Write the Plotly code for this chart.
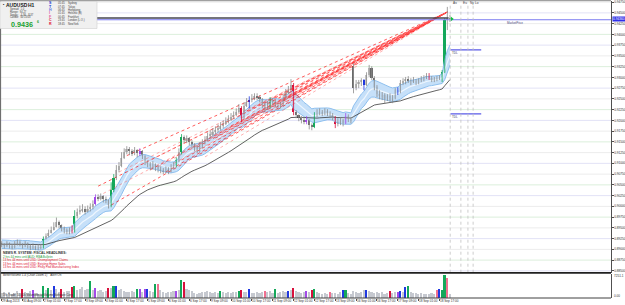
import plotly.graph_objects as go
import pandas as pd

PIP = 1e-4
# ---- OHLC (2-hour bars, prices in 1e-4 units) ----
open_pips = [
 8914,8912,8907,8914,8909,8905,8912,8916,8912,8907,8914,8909,8905,8907,8902,8907,8907,8925,8930,8939,
 8946,8953,8963,8956,8949,8944,8939,8946,8942,8977,8986,8991,8995,8988,8993,8998,9005,9021,9019,9023,
 9016,9014,9002,9037,9065,9084,9093,9112,9126,9133,9128,9124,9131,9124,9128,9117,9105,9098,9093,9098,
 9091,9086,9084,9079,9086,9082,9089,9096,9107,9126,9161,9154,9158,9149,9142,9138,9133,9140,9147,9154,
 9163,9168,9172,9177,9182,9186,9191,9198,9203,9207,9212,9219,9228,9205,9233,9242,9247,9252,9256,9254,
 9249,9238,9228,9235,9247,9242,9238,9233,9235,9252,9263,9270,9282,9219,9212,9205,9200,9198,9200,9189,
 9184,9210,9217,9219,9217,9221,9217,9212,9207,9191,9196,9200,9193,9210,9203,9326,9275,9284,9289,9294,
 9282,9305,9322,9298,9277,9261,9256,9259,9249,9256,9247,9252,9270,9266,9287,9291,9296,9291,9294,9289,
 9291,9296,9294,9301,9303,9298,9294,9296,9298,9301,9312,9433,9438]
high_pips = [
 8919,8914,8919,8916,8912,8919,8923,8921,8914,8919,8916,8912,8914,8909,8912,8912,8930,8937,8946,8953,
 8963,8974,8967,8958,8953,8949,8951,8956,8991,8995,9002,9005,9000,9002,9007,9014,9028,9028,9030,9026,
 9023,9016,9056,9075,9096,9103,9126,9135,9140,9138,9133,9138,9133,9135,9131,9119,9107,9103,9105,9100,
 9096,9093,9089,9093,9091,9098,9103,9114,9135,9168,9165,9165,9161,9154,9147,9142,9149,9156,9163,9172,
 9177,9182,9186,9191,9196,9200,9207,9212,9217,9221,9228,9238,9233,9242,9252,9256,9261,9263,9263,9259,
 9252,9242,9245,9254,9252,9247,9240,9242,9261,9273,9280,9296,9287,9224,9214,9210,9207,9210,9203,9193,
 9219,9226,9228,9224,9228,9226,9221,9217,9210,9205,9207,9203,9217,9214,9207,9333,9294,9294,9298,9296,
 9312,9329,9326,9303,9282,9270,9266,9263,9261,9263,9259,9275,9277,9294,9298,9301,9303,9298,9301,9296,
 9298,9303,9305,9310,9310,9303,9301,9303,9305,9317,9438,9464,9445]
low_pips = [
 8905,8902,8905,8902,8900,8902,8909,8907,8902,8905,8902,8898,8900,8898,8898,8900,8902,8923,8928,8937,
 8944,8951,8949,8942,8937,8935,8935,8937,8939,8972,8981,8986,8981,8986,8988,8993,9002,9012,9014,9009,
 9007,8995,8998,9033,9061,9079,9091,9110,9121,9119,9117,9119,9114,9117,9110,9096,9091,9084,9086,9082,
 9079,9077,9075,9077,9075,9079,9086,9091,9103,9121,9147,9147,9142,9135,9128,9124,9126,9135,9144,9151,
 9158,9163,9168,9172,9177,9182,9189,9193,9198,9203,9210,9217,9196,9203,9231,9228,9242,9247,9247,9242,
 9228,9221,9224,9228,9235,9231,9226,9228,9233,9249,9261,9268,9212,9205,9198,9193,9191,9191,9179,9177,
 9182,9207,9212,9210,9212,9210,9205,9200,9182,9186,9189,9186,9191,9196,9193,9263,9270,9275,9280,9270,
 9280,9301,9294,9270,9254,9249,9247,9240,9245,9242,9240,9249,9259,9263,9282,9284,9287,9282,9287,9282,
 9284,9289,9291,9296,9294,9289,9289,9291,9294,9289,9310,9410,9429]
close_pips = [
 8912,8907,8914,8909,8905,8912,8916,8912,8907,8914,8909,8905,8907,8902,8907,8905,8925,8930,8939,8946,
 8953,8963,8956,8949,8944,8939,8946,8942,8977,8986,8991,8995,8988,8993,8998,9005,9021,9019,9023,9016,
 9014,9002,9037,9065,9084,9093,9112,9126,9133,9128,9124,9131,9124,9128,9117,9105,9098,9093,9098,9091,
 9086,9084,9079,9086,9082,9089,9096,9107,9126,9161,9154,9158,9149,9142,9138,9131,9140,9147,9154,9163,
 9168,9172,9177,9182,9186,9191,9198,9203,9207,9212,9219,9228,9205,9233,9242,9247,9252,9256,9254,9249,
 9238,9228,9235,9247,9242,9238,9233,9235,9252,9263,9270,9282,9219,9212,9205,9200,9198,9200,9189,9184,
 9210,9217,9219,9217,9221,9217,9212,9207,9191,9196,9200,9193,9210,9203,9200,9275,9284,9289,9294,9282,
 9305,9322,9298,9277,9261,9256,9259,9249,9256,9247,9252,9270,9266,9287,9291,9296,9291,9294,9289,9291,
 9296,9294,9301,9303,9298,9294,9296,9298,9301,9312,9433,9438,9436]
volume = [
 1500,1800,1200,2000,1400,1700,2300,1600,2900,1900,1500,2200,2600,1700,1300,1100,
 3800,2500,3200,2400,3800,2700,2000,2900,1800,2100,2300,3500,3800,2600,2900,3300,2400,2800,5200,2500,
 3200,2100,2400,1900,2200,3200,3000,3800,3800,2600,2900,2300,2000,1800,2200,1900,2900,2900,2000,2900,
 2900,2300,2000,4300,4300,2400,1800,1600,2000,1900,2200,2300,2600,5500,4900,2900,2400,2100,1700,1300,
 1600,2000,1800,2200,1900,1700,2000,1600,2300,1800,1500,1900,1700,2000,1800,2300,2600,2000,1800,2900,
 1700,1500,1900,1600,2000,2300,1800,2200,1700,2900,1600,1900,2100,2000,2300,2600,3200,2200,1800,1700,
 2000,2300,1900,2600,2900,1800,1500,1300,1600,1400,2000,1500,1700,1400,1800,2600,2600,1500,1200,2200,
 1900,1700,2000,2600,2600,2200,2000,1700,1900,1500,1800,1400,1700,2300,1600,1900,2000,2300,1800,3500,
 3800,1900,1500,1600,1300,1500,1200,1400,1300,1600,1400,2600,2900,2600,7000,6100,1400]

candle_green = [16, 28, 42, 43, 67, 69, 103, 120, 169, 170]
candle_red = [27, 92, 112, 128, 164]
candle_blue = [95, 139, 152]
candle_purple = [36, 53, 117, 132]
vol_green = [16, 18, 28, 34, 43, 52, 59, 69, 84, 91, 105, 120, 132, 156, 169, 170]
vol_red = [8, 23, 27, 41, 70, 92, 112, 119, 149]
vol_blue = [20, 44, 56, 95, 110, 131, 140, 153, 155, 168]
vol_purple = [12, 36, 53, 55, 67, 117, 152]
vol_pink = [60, 101, 126, 167, 171]

time_labels = ["29 Aug 2013", "30 Aug 09:00", "2 Sep 01:00", "2 Sep 17:00", "3 Sep 09:00",
               "4 Sep 01:00", "4 Sep 17:00", "5 Sep 09:00", "6 Sep 01:00", "6 Sep 17:00",
               "9 Sep 09:00", "10 Sep 01:00", "10 Sep 17:00", "11 Sep 09:00", "12 Sep 01:00",
               "12 Sep 17:00", "13 Sep 09:00", "16 Sep 01:00", "16 Sep 17:00", "17 Sep 09:00",
               "18 Sep 01:00", "18 Sep 17:00"]
BARS_PER_LABEL = 8

# fan lines: start points (bar, price) all joined to one apex
fan_start_bar = [37, 39, 42, 45, 48, 53, 57, 60, 63, 66, 69, 72, 75, 78, 82, 85, 88, 92, 94,
                 96, 100, 104, 108, 111]
fan_start_pips = [9047, 9030, 9003, 9080, 9118, 9096, 9085, 9092, 9080, 9100, 9108, 9132, 9138,
                  9115, 9159, 9176, 9187, 9206, 9222, 9229, 9233, 9238, 9247, 9271]
fan_apex_bar = 171
fan_apex_pips = 9452

close_line_pips = 9438
market_price_pips = 9434
tdl_pips = [9364, 9215]
session_bars = [172.1, 176.2, 178.9, 180.9]
session_names = ["As", "Eu", "Ny", "Lo"]

price_ticks_pips = list(range(8850, 9476, 25))
grid_colors = ["#e2e2f6", "#dcefdc", "#ececec", "#e2e2f6", "#ececec", "#dcefdc", "#ececec"]

news_lines = [("NEWS R. SYSTEM: FISCAL HEADLINES:", "#303030"),
              ("2 hrs 44 mins until AUD: RBA Bulletin", "#1a9a3a"),
              ("13 hrs 44 mins until USD: Unemployment Claims", "#e01030"),
              ("13 hrs 44 mins until USD: Existing Home Sales", "#e01030"),
              ("13 hrs 44 mins until USD: Philly Fed Manufacturing Index", "#e01030")]
session_clock = [("S", "#2030d0", "05:45", "Sydney"), ("T", "#2030d0", "07:45", "Tokyo"),
                 ("H", "#6070e0", "06:45", "Hongkong"), ("I", "#e060a0", "01:45", "Helsinki (B)"),
                 ("F", "#e060a0", "00:45", "Frankfurt"), ("C", "#e01030", "23:45", "London (L.O.)"),
                 ("R", "#e01030", "18:45", "NewYork")]

# ---------------------------------------------------------------
W, H = 625, 305
ML, MR, MT, MB = 1, 14, 1, 7
PW, PH = W - ML - MR, H - MT - MB
def px(x):
    return (x - ML) / PW
def py(y):
    return (H - MB - y) / PH

o = [v * PIP for v in open_pips]
h = [v * PIP for v in high_pips]
l = [v * PIP for v in low_pips]
c = [v * PIP for v in close_pips]
n = len(c)
idx = list(range(n))

cs, hs, ls = pd.Series(c), pd.Series(h), pd.Series(l)
band_mid = cs.ewm(span=12, adjust=False).mean()
band_rng = (hs - ls).ewm(span=12, adjust=False).mean()
band_up = band_mid + 0.7 * band_rng
band_lo = band_mid - 0.7 * band_rng
slow_ma = cs.ewm(span=42, adjust=False).mean()

X0, X1 = -0.27, 233.8
Y0, Y1 = 0.884570, 0.947767
main_dom = [py(272.7), 1]
vol_dom = [0, py(273.6)]

COL = {"g": "#14a85a", "r": "#d8103c", "b": "#2038e0", "p": "#a24ae8", "k": "#f07090"}
ccol = {}
for i in candle_green: ccol[i] = COL["g"]
for i in candle_red: ccol[i] = COL["r"]
for i in candle_blue: ccol[i] = COL["b"]
for i in candle_purple: ccol[i] = COL["p"]

fig = go.Figure()

# band
fig.add_trace(go.Scatter(x=idx, y=band_up, mode="lines", line=dict(color="#8dbfee", width=1),
                         hoverinfo="skip", showlegend=False))
fig.add_trace(go.Scatter(x=idx, y=band_lo, mode="lines", line=dict(color="#8dbfee", width=1),
                         fill="tonexty", fillcolor="rgba(192,221,248,0.9)", hoverinfo="skip", showlegend=False))
fig.add_trace(go.Scatter(x=idx, y=band_mid, mode="lines", line=dict(color="#eef6fe", width=1.2),
                         hoverinfo="skip", showlegend=False))
fig.add_trace(go.Scatter(x=idx, y=slow_ma, mode="lines", line=dict(color="#3a3a3a", width=0.8),
                         hoverinfo="skip", showlegend=False))

# fan
for k, colr in enumerate(["rgba(255,0,0,0.8)", "rgba(255,90,90,0.6)"]):
    fx, fy = [], []
    for j in range(k, len(fan_start_bar), 2):
        fx += [fan_start_bar[j], fan_apex_bar, None]
        fy += [fan_start_pips[j] * PIP, fan_apex_pips * PIP, None]
    fig.add_trace(go.Scatter(x=fx, y=fy, mode="lines", line=dict(color=colr, width=0.8, dash="dot"),
                             hoverinfo="skip", showlegend=False))

# wicks
groups = {}
for i in idx:
    colr = ccol.get(i, "#8a8a8a")
    groups.setdefault(colr, ([], []))
    groups[colr][0].extend([i, i, None])
    groups[colr][1].extend([l[i], h[i], None])
for colr, (wx, wy) in groups.items():
    fig.add_trace(go.Scatter(x=wx, y=wy, mode="lines", line=dict(color=colr, width=0.8),
                             hoverinfo="skip", showlegend=False))
# bodies
bcol = [ccol.get(i, "#c2c2c2" if c[i] >= o[i] else "#6a6a6a") for i in idx]
fig.add_trace(go.Bar(x=idx, y=[max(abs(c[i] - o[i]), 0.3 * PIP) for i in idx],
                     base=[min(o[i], c[i]) for i in idx], width=0.62,
                     marker=dict(color=bcol, line=dict(width=0)), hoverinfo="skip", showlegend=False))

# level lines
fig.add_trace(go.Scatter(x=[X0, X1], y=[market_price_pips * PIP] * 2, mode="lines",
                         line=dict(color="#7878f0", width=1.2), hoverinfo="skip", showlegend=False))
fig.add_trace(go.Scatter(x=[X0, fan_apex_bar + 0.5], y=[close_line_pips * PIP] * 2, mode="lines",
                         line=dict(color="#454550", width=1.4), hoverinfo="skip", showlegend=False))
for lv in tdl_pips:
    fig.add_trace(go.Scatter(x=[n - 0.8, n + 11], y=[lv * PIP] * 2, mode="lines",
                             line=dict(color="#5a5ae8", width=1.2), hoverinfo="skip", showlegend=False))
fig.add_trace(go.Scatter(x=[n - 0.3], y=[c[-1]], mode="markers",
                         marker=dict(symbol="triangle-right", size=4, color="#10c040"),
                         hoverinfo="skip", showlegend=False))

# volume
vc = ["#c6c9d0"] * n
for lst, colr in [(vol_green, COL["g"]), (vol_red, COL["r"]), (vol_blue, COL["b"]),
                  (vol_purple, COL["p"]), (vol_pink, COL["k"])]:
    for i in lst:
        vc[i] = colr
fig.add_trace(go.Bar(x=idx, y=volume, width=0.62, marker=dict(color=vc, line=dict(width=0)),
                     xaxis="x2", yaxis="y2", hoverinfo="skip", showlegend=False))

shapes = []
for k, lv in enumerate(price_ticks_pips):
    shapes.append(dict(type="line", xref="paper", yref="y", x0=0, x1=1, y0=lv * PIP, y1=lv * PIP,
                       line=dict(color=grid_colors[k % len(grid_colors)], width=1), layer="below"))
for sb in session_bars:
    shapes.append(dict(type="line", xref="x", yref="paper", x0=sb, x1=sb, y0=main_dom[0], y1=py(5),
                       line=dict(color="#c0c0c0", width=0.8, dash="dot")))
# frame
shapes += [
    dict(type="line", xref="paper", yref="paper", x0=px(0), x1=px(611), y0=py(0.6), y1=py(0.6),
         line=dict(color="#a0a0a0", width=1.2)),
    dict(type="line", xref="paper", yref="paper", x0=px(0), x1=px(611), y0=py(272.9), y1=py(272.9),
         line=dict(color="#202020", width=1.8)),
    dict(type="line", xref="paper", yref="paper", x0=px(0), x1=px(611), y0=py(298), y1=py(298),
         line=dict(color="#404040", width=1)),
    dict(type="line", xref="paper", yref="paper", x0=px(0.6), x1=px(0.6), y0=py(298), y1=py(1),
         line=dict(color="#606060", width=1)),
    dict(type="rect", xref="paper", yref="paper", x0=px(0), x1=px(97), y0=py(28.5), y1=py(1.5),
         fillcolor="#f0f0f0", line=dict(color="#d0d0d0", width=0.6)),
]

FONT = "Liberation Sans, Arial, sans-serif"
ann = []
def txt(x, y, s, size=3.2, color="#303030", bold=False, xanchor="left", bg=None):
    d = dict(xref="paper", yref="paper", x=px(x), y=py(y), text=("<b>%s</b>" % s) if bold else s,
             showarrow=False, xanchor=xanchor, yanchor="middle", borderpad=0,
             font=dict(size=size, color=color, family=FONT))
    if bg:
        d["bgcolor"] = bg
    ann.append(d)

for k, lab in enumerate(time_labels):
    ann.append(dict(xref="x2", yref="paper", x=k * BARS_PER_LABEL - 0.2, y=py(301.5), text=lab,
                    showarrow=False, xanchor="left", yanchor="middle", borderpad=0,
                    font=dict(size=3.1, color="#303030", family=FONT)))
for sb, nm in zip(session_bars, session_names):
    ann.append(dict(xref="x", yref="paper", x=sb + 0.5, y=py(3.3), text=nm, showarrow=False,
                    xanchor="left", yanchor="middle", borderpad=0,
                    font=dict(size=3.2, color="#404040", family=FONT)))
for lv in tdl_pips:
    ann.append(dict(xref="x", yref="y", x=n - 0.6, y=lv * PIP, text="TDL", showarrow=False,
                    xanchor="left", yanchor="top", borderpad=0, yshift=-0.5,
                    font=dict(size=3, color="#404060", family=FONT)))
ann.append(dict(xref="x", yref="y", x=n + 20.5, y=market_price_pips * PIP, text="MarketPrice",
                showarrow=False, xanchor="left", yanchor="top", borderpad=0, yshift=-0.5,
                font=dict(size=3, color="#4a4a80", family=FONT)))

for k, (s, colr) in enumerate(news_lines):
    txt(2, 253.0 + k * 3.6, s, size=3.3 if k == 0 else 3.0, color=colr, bold=(k == 0))

txt(2, 274.6, "BetterVolume 1.4 (Chart Zoom 1)    Alert On", size=3.0)
txt(2, 295.2, "5% Trade: 10.00k VolumeBetterVolume Software Corp", size=2.9)
txt(612.5, 275.8, "7251.1", size=3.1)
txt(612.5, 296.0, "0.00", size=3.1)
txt(612.3, 19.2, "%.5f" % c[-1], size=3.2, color="#ffffff", bg="#2f2fe8")

# info box
txt(1.5, 4.6, "\u25aa", size=4, color="#202020")
txt(5, 4.6, "AUDUSD", size=5, color="#202020", bold=True)
txt(27, 4.6, "H1", size=5, color="#202020", bold=True)
for k, s in enumerate(["Spread:  1.0", "Range:  94.27", "Swaps:  -4.36, -8.37", "Candle:  00:15:03"]):
    txt(9, 9.3 + k * 2.7, s, size=2.6, color="#404040")
txt(10, 24.3, "%.4f" % c[-1], size=7.2, color="#18a030", bold=True)
txt(35.5, 22.3, "6", size=3.5, color="#18a030", bold=True)
for k, (letter, lc, tm, nm) in enumerate(session_clock):
    txt(48, 3.3 + k * 3.4, letter, size=3.6, color=lc, bold=True)
    txt(57, 3.3 + k * 3.4, tm, size=2.7, color="#404040")
    txt(67, 3.3 + k * 3.4, nm, size=2.7, color="#404040")

fig.update_layout(
    width=W, height=H, margin=dict(l=ML, r=MR, t=MT, b=MB, autoexpand=False),
    template="none", paper_bgcolor="white", plot_bgcolor="white", showlegend=False,
    bargap=0, shapes=shapes, annotations=ann,
    xaxis=dict(domain=[0, 1], range=[X0, X1], anchor="y", showgrid=False, zeroline=False,
               showticklabels=False, showline=False, ticks="", fixedrange=True, automargin=False),
    xaxis2=dict(domain=[0, 1], range=[X0, X1], anchor="y2", showgrid=False, zeroline=False,
                showticklabels=False, showline=False, ticks="outside", ticklen=2, tickcolor="#505050",
                tickvals=[k * BARS_PER_LABEL for k in range(len(time_labels))], automargin=False),
    yaxis=dict(domain=main_dom, range=[Y0, Y1], side="right", showgrid=False, zeroline=False,
               tickvals=[v * PIP for v in price_ticks_pips],
               ticktext=["%.5f" % (v * PIP) for v in price_ticks_pips],
               tickfont=dict(size=3.2, color="#303030", family=FONT), ticks="outside", ticklen=1.5,
               tickcolor="#505050", showline=True, linecolor="#505050", linewidth=1, automargin=False),
    yaxis2=dict(domain=vol_dom, range=[0, 7300], side="right", showgrid=False, zeroline=False,
                showticklabels=False, ticks="", showline=True, linecolor="#505050", linewidth=1,
                automargin=False),
)
fig.write_html("out.html")
